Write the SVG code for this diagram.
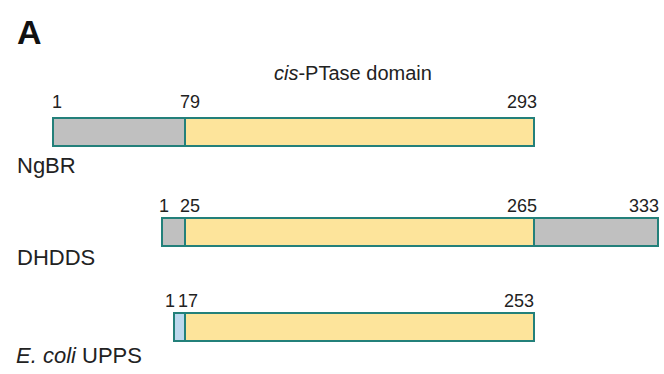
<svg xmlns="http://www.w3.org/2000/svg" width="664" height="374" viewBox="0 0 664 374">
<style>
text{font-family:"Liberation Sans",Arial,sans-serif;fill:#222}
.num{font-size:18px}
.lbl{font-size:22px}
.bar{stroke:#23807a;stroke-width:2}
.gray{fill:#c0c0c0}
.yel{fill:#fde49b}
.blue{fill:#bcd8ee}
</style>
<rect width="664" height="374" fill="#fff"/>
<text x="17" y="44" style="font-size:34px;font-weight:bold;fill:#111">A</text>
<text x="274" y="80" style="font-size:20px"><tspan font-style="italic">cis</tspan>-PTase domain</text>
<g id="ngbr">
<rect class="bar gray" x="53" y="118" width="132" height="28"/>
<rect class="bar yel" x="185" y="118" width="349" height="28"/>
<text class="num" x="52" y="108">1</text>
<text class="num" x="180" y="108">79</text>
<text class="num" x="507" y="108">293</text>
<text class="lbl" x="17" y="173">NgBR</text>
</g>
<g id="dhdds">
<rect class="bar gray" x="162" y="218" width="23" height="28"/>
<rect class="bar yel" x="185" y="218" width="349" height="28"/>
<rect class="bar gray" x="534" y="218" width="124" height="28"/>
<text class="num" x="159" y="212">1</text>
<text class="num" x="180" y="212">25</text>
<text class="num" x="507" y="212">265</text>
<text class="num" x="629" y="212">333</text>
<text class="lbl" x="17" y="265">DHDDS</text>
</g>
<g id="upps">
<rect class="bar blue" x="174" y="313" width="11" height="28"/>
<rect class="bar yel" x="185" y="313" width="349" height="28"/>
<text class="num" x="165" y="307">1</text>
<text class="num" x="178" y="307">17</text>
<text class="num" x="504" y="307">253</text>
<text class="lbl" x="16" y="363"><tspan font-style="italic">E. coli</tspan> UPPS</text>
</g>
<g id="connectors"/>
</svg>
